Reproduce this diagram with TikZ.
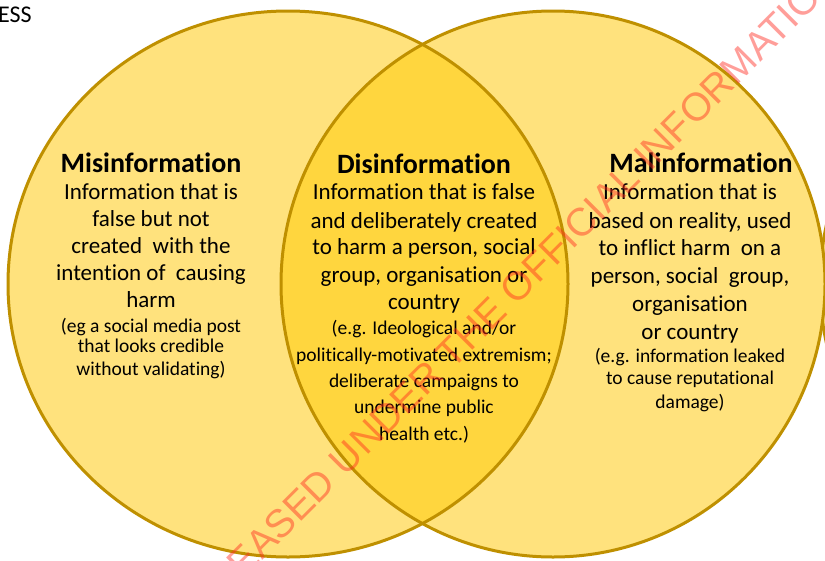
\documentclass[tikz,border=0pt]{standalone}
\usepackage{fontspec}
\setmainfont{Carlito}[Ligatures=NoCommon]
\newfontfamily\wmfont{Liberation Sans}
\definecolor{lightY}{RGB}{255,226,125}
\definecolor{midY}{RGB}{255,214,62}
\definecolor{goldE}{RGB}{191,144,0}
\definecolor{wmred}{RGB}{255,40,30}
\tikzset{
  ttl/.style={font=\fontsize{28}{32}\selectfont\bfseries, anchor=base, inner sep=0pt},
  bodytxt/.style={font=\fontsize{23}{27}\selectfont, anchor=base, inner sep=0pt},
  smalltxt/.style={font=\fontsize{19.5}{22}\selectfont, anchor=base, inner sep=0pt},
  rim/.style={draw=goldE, line width=3pt},
}
\begin{document}
\begin{tikzpicture}[x=1pt,y=-1pt]
\useasboundingbox (0,0) rectangle (825,560);
\clip (0,0) rectangle (825,560);
\fill[white] (0,0) rectangle (825,560);
% third circle at far right (partly visible)
\fill[lightY] (1092,284) ellipse [x radius=272, y radius=273];
\draw[rim] (1092,284) ellipse [x radius=272, y radius=273];
% two main circles
\fill[lightY] (288,284) ellipse [x radius=280, y radius=273];
\fill[lightY] (553,284) ellipse [x radius=272, y radius=273];
\begin{scope}
  \clip (288,284) ellipse [x radius=280, y radius=273];
  \fill[midY] (553,284) ellipse [x radius=272, y radius=273];
\end{scope}
\draw[rim] (288,284) ellipse [x radius=280, y radius=273];
\draw[rim] (553,284) ellipse [x radius=272, y radius=273];

% top-left fragment
\node[font=\fontsize{24}{26}\selectfont, anchor=base west, inner sep=0pt] (ess) at (-2,22) {ESS};

% Misinformation
\node[ttl] (misT) at (151,172) {Misinformation};
\node[bodytxt] (misB1) at (151,199) {Information that is};
\node[bodytxt] (misB2) at (151,226) {false but not};
\node[bodytxt] (misB3) at (151,253) {created\ \ with the};
\node[bodytxt] (misB4) at (151,280) {intention of\ \ causing};
\node[bodytxt] (misB5) at (151,307) {harm};
\node[smalltxt] (misS1) at (151,332) {(eg a social media post};
\node[smalltxt] (misS2) at (151,352) {that looks credible};
\node[smalltxt] (misS3) at (151,375) {without validating)};

% Disinformation
\node[ttl] (disT) at (424,173) {Disinformation};
\node[bodytxt] (disB1) at (424,199) {Information that is false};
\node[bodytxt] (disB2) at (424,228) {and deliberately created};
\node[bodytxt] (disB3) at (424,254) {to harm a person, social};
\node[bodytxt] (disB4) at (424,282) {group, organisation or};
\node[bodytxt] (disB5) at (424,309) {country};
\node[smalltxt] (disS1) at (424,334) {(e.g. Ideological and/or};
\node[smalltxt] (disS2) at (424,361) {politically-motivated extremism;};
\node[smalltxt] (disS3) at (424,387) {deliberate campaigns to};
\node[smalltxt] (disS4) at (424,413) {undermine public};
\node[smalltxt] (disS5) at (424,440) {health etc.)};

% Malinformation
\node[ttl] (malT) at (701,172) {Malinformation};
\node[bodytxt] (malB1) at (690,199) {Information that is};
\node[bodytxt] (malB2) at (690,228) {based on reality, used};
\node[bodytxt] (malB3) at (690,255) {to inflict harm\ \ on a};
\node[bodytxt] (malB4) at (690,283) {person, social\ \ group,};
\node[bodytxt] (malB5) at (690,311) {organisation};
\node[bodytxt] (malB6) at (690,339) {or country};
\node[smalltxt] (malS1) at (690,362) {(e.g. information leaked};
\node[smalltxt] (malS2) at (690,384) {to cause reputational};
\node[smalltxt] (malS3) at (690,408) {damage)};

% watermark
\node[rotate=45, anchor=base west, inner sep=0pt, text=wmred, text opacity=0.45,
      font=\wmfont\fontsize{39.5}{40}\selectfont] (wm) at (189,634)
      {RELEASED UNDER THE OFFICIAL INFORMATION ACT};
\end{tikzpicture}
\end{document}
